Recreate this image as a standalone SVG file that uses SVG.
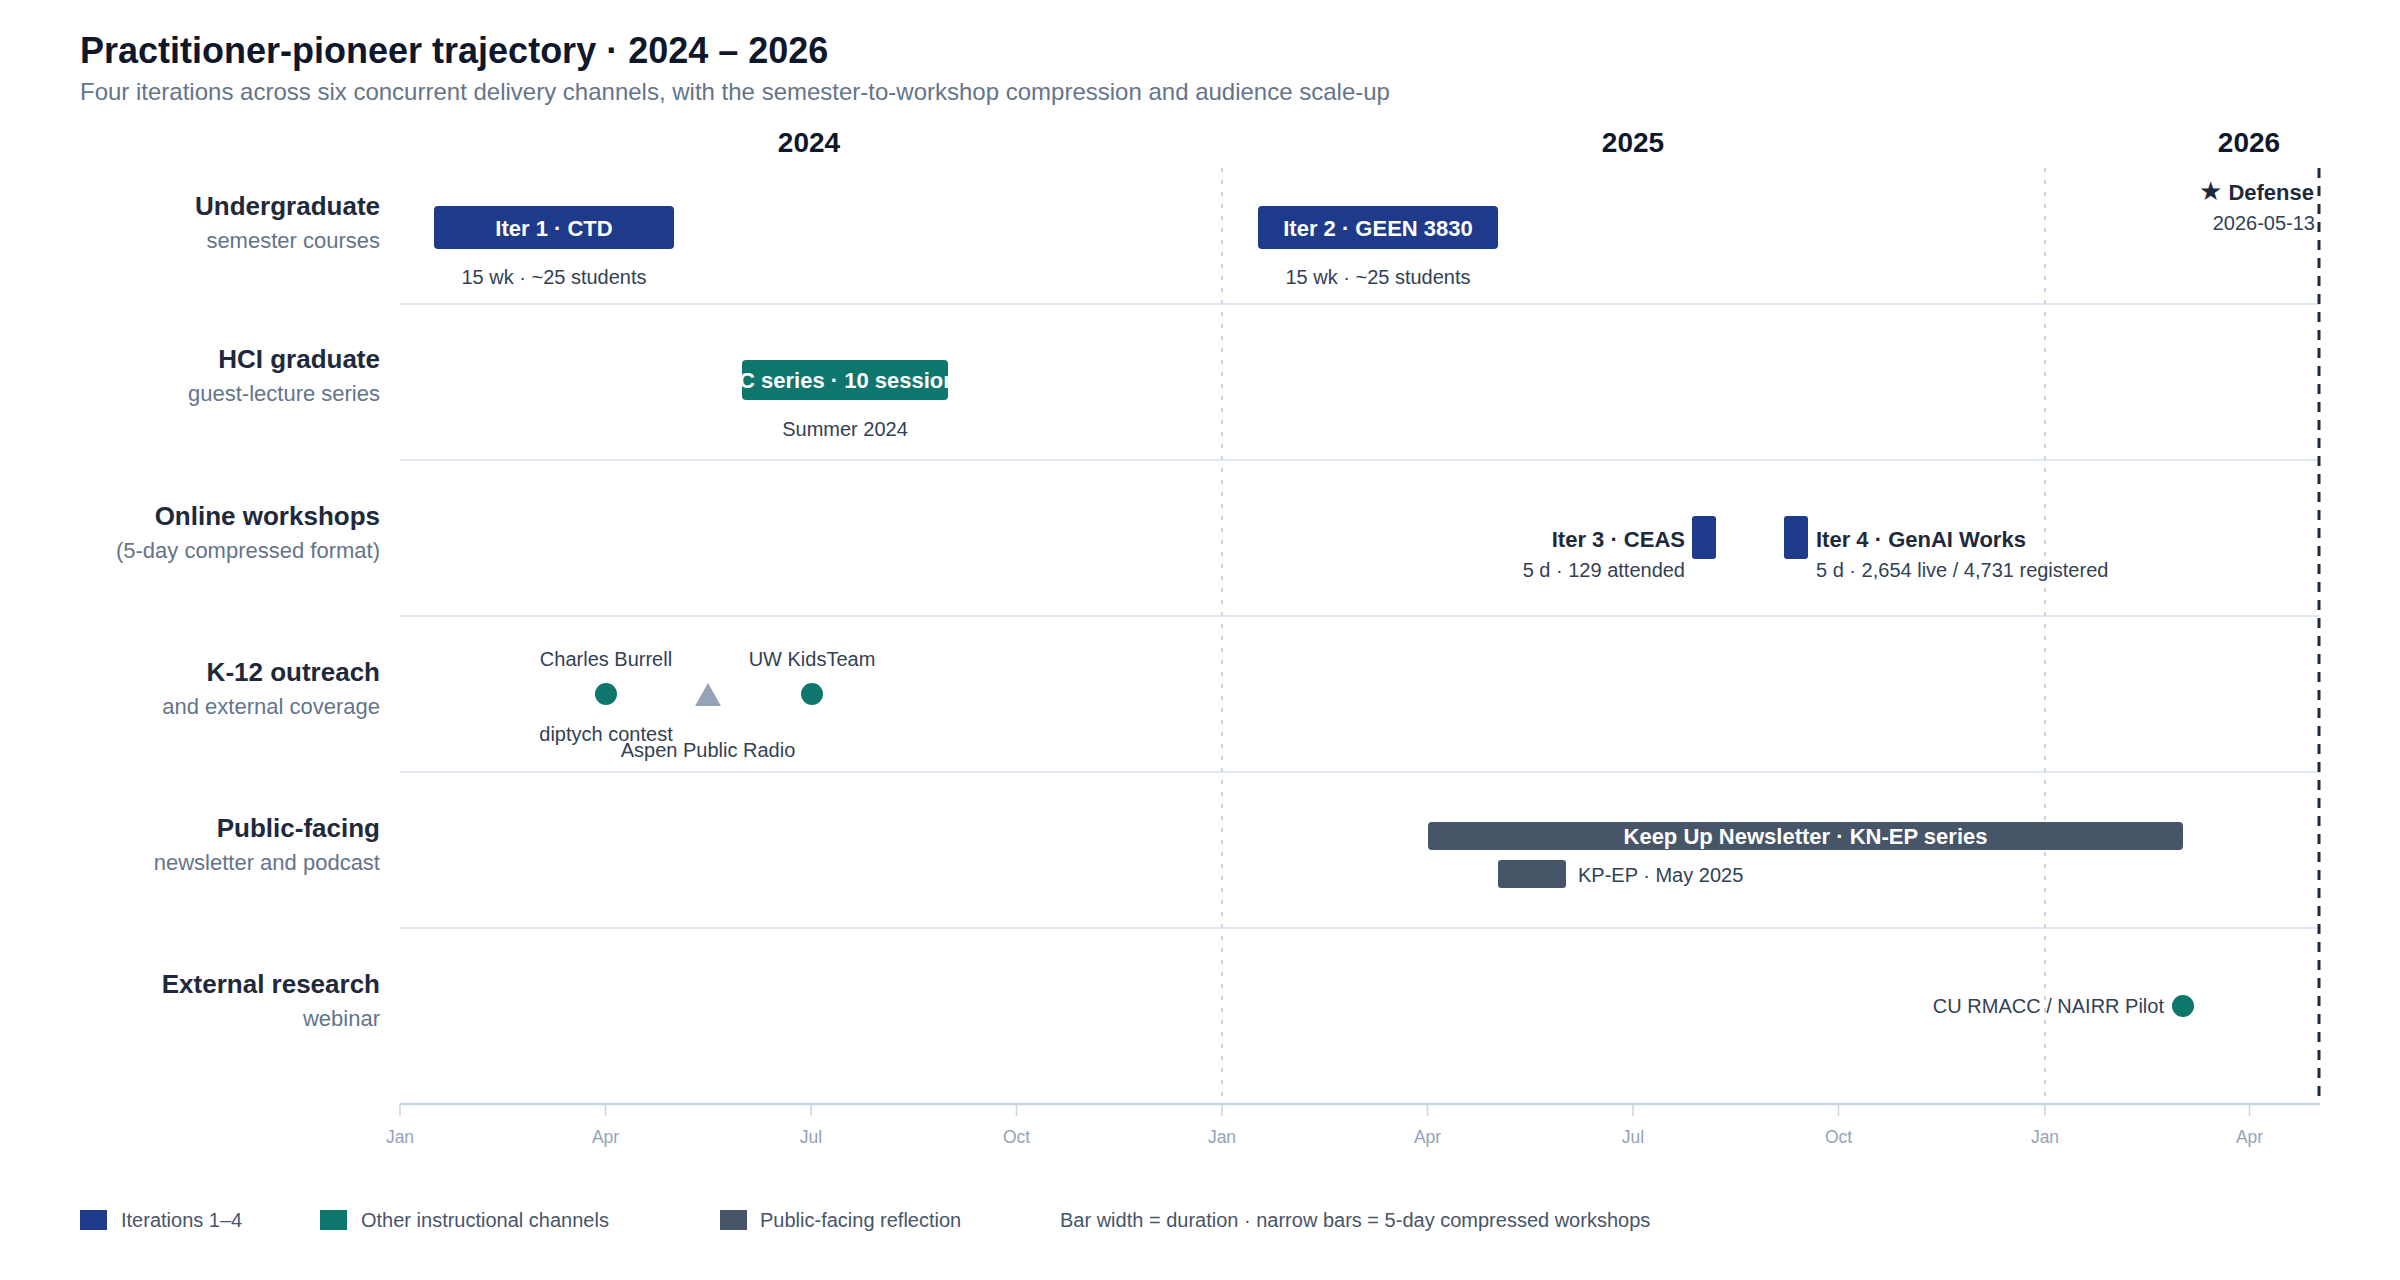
<svg xmlns="http://www.w3.org/2000/svg" width="2400" height="1280" viewBox="0 0 2400 1280">
<style>
text{font-family:"Liberation Sans",Arial,"DejaVu Sans",sans-serif}
.title{font-size:36px;font-weight:700;fill:#0f172a}
.subtitle{font-size:24px;fill:#64748b}
.year{font-size:28px;font-weight:700;fill:#0f172a;text-anchor:middle}
.rowt{font-size:26px;font-weight:700;fill:#1e293b;text-anchor:end}
.rows{font-size:22px;fill:#64748b;text-anchor:end}
.barlbl{font-size:22px;font-weight:700;fill:#ffffff;text-anchor:middle}
.note{font-size:20px;fill:#334155}
.blbl{font-size:22px;font-weight:700;fill:#1e293b}
.tick{font-size:17.5px;fill:#94a3b8;text-anchor:middle}
.leg{font-size:20px;fill:#475569}
.sep{stroke:#e2e8f0;stroke-width:2}
.grid{stroke:#cbd5e1;stroke-width:2;stroke-dasharray:4 8}
.iter{fill:#1e3a8a}
.teal{fill:#0f766e}
.slate{fill:#475569}
</style>
<defs>
<clipPath id="hciclip"><rect x="742" y="360" width="206" height="40" rx="4"/></clipPath>
</defs>
<rect width="2400" height="1280" fill="#ffffff"/>
<text class="title" x="80" y="63">Practitioner-pioneer trajectory · 2024 – 2026</text>
<text class="subtitle" x="80" y="100">Four iterations across six concurrent delivery channels, with the semester-to-workshop compression and audience scale-up</text>
<text class="year" x="809" y="152">2024</text>
<text class="year" x="1633" y="152">2025</text>
<text class="year" x="2249" y="152">2026</text>
<g id="grid">
<line class="sep" x1="400" y1="304" x2="2320" y2="304"/>
<line class="sep" x1="400" y1="460" x2="2320" y2="460"/>
<line class="sep" x1="400" y1="616" x2="2320" y2="616"/>
<line class="sep" x1="400" y1="772" x2="2320" y2="772"/>
<line class="sep" x1="400" y1="928" x2="2320" y2="928"/>
<line class="grid" x1="1222" y1="168" x2="1222" y2="1103"/>
<line class="grid" x1="2045" y1="168" x2="2045" y2="1103"/>
</g>
<g id="axis">
<line x1="400" y1="1104" x2="2320" y2="1104" stroke="#cbd5e1" stroke-width="2.5"/>
<g stroke="#cbd5e1" stroke-width="1.5">
<line x1="400" y1="1104" x2="400" y2="1116"/>
<line x1="605.5" y1="1104" x2="605.5" y2="1116"/>
<line x1="811" y1="1104" x2="811" y2="1116"/>
<line x1="1016.5" y1="1104" x2="1016.5" y2="1116"/>
<line x1="1222" y1="1104" x2="1222" y2="1116"/>
<line x1="1427.5" y1="1104" x2="1427.5" y2="1116"/>
<line x1="1633" y1="1104" x2="1633" y2="1116"/>
<line x1="1838.5" y1="1104" x2="1838.5" y2="1116"/>
<line x1="2045" y1="1104" x2="2045" y2="1116"/>
<line x1="2249.5" y1="1104" x2="2249.5" y2="1116"/>
</g>
<text class="tick" x="400" y="1143">Jan</text>
<text class="tick" x="605.5" y="1143">Apr</text>
<text class="tick" x="811" y="1143">Jul</text>
<text class="tick" x="1016.5" y="1143">Oct</text>
<text class="tick" x="1222" y="1143">Jan</text>
<text class="tick" x="1427.5" y="1143">Apr</text>
<text class="tick" x="1633" y="1143">Jul</text>
<text class="tick" x="1838.5" y="1143">Oct</text>
<text class="tick" x="2045" y="1143">Jan</text>
<text class="tick" x="2249.5" y="1143">Apr</text>
</g>
<g id="row-labels">
<text class="rowt" x="380" y="215">Undergraduate</text>
<text class="rows" x="380" y="248">semester courses</text>
<text class="rowt" x="380" y="368">HCI graduate</text>
<text class="rows" x="380" y="401">guest-lecture series</text>
<text class="rowt" x="380" y="525">Online workshops</text>
<text class="rows" x="380" y="558">(5-day compressed format)</text>
<text class="rowt" x="380" y="681">K-12 outreach</text>
<text class="rows" x="380" y="714">and external coverage</text>
<text class="rowt" x="380" y="837">Public-facing</text>
<text class="rows" x="380" y="870">newsletter and podcast</text>
<text class="rowt" x="380" y="993">External research</text>
<text class="rows" x="380" y="1026">webinar</text>
</g>
<g id="iter1">
<rect class="iter" x="434" y="206" width="240" height="43" rx="4"/>
<text class="barlbl" x="554" y="235.5">Iter 1 · CTD</text>
<text class="note" x="554" y="284" text-anchor="middle">15 wk · ~25 students</text>
</g>
<g id="iter2">
<rect class="iter" x="1258" y="206" width="240" height="43" rx="4"/>
<text class="barlbl" x="1378" y="235.5">Iter 2 · GEEN 3830</text>
<text class="note" x="1378" y="284" text-anchor="middle">15 wk · ~25 students</text>
</g>
<g id="hci-series">
<rect class="teal" x="742" y="360" width="206" height="40" rx="4"/>
<text class="barlbl" x="739" y="388" style="text-anchor:start" clip-path="url(#hciclip)">C series · 10 sessions</text>
<text class="note" x="845" y="436" text-anchor="middle">Summer 2024</text>
</g>
<g id="iter3">
<rect class="iter" x="1692" y="516" width="24" height="43" rx="3"/>
<text class="blbl" x="1685" y="547" text-anchor="end">Iter 3 · CEAS</text>
<text class="note" x="1685" y="577" text-anchor="end">5 d · 129 attended</text>
</g>
<g id="iter4">
<rect class="iter" x="1784" y="516" width="24" height="43" rx="3"/>
<text class="blbl" x="1816" y="547">Iter 4 · GenAI Works</text>
<text class="note" x="1816" y="577">5 d · 2,654 live / 4,731 registered</text>
</g>
<g id="charles-burrell">
<circle class="teal" cx="606" cy="694" r="11"/>
<text class="note" x="606" y="666" text-anchor="middle">Charles Burrell</text>
<text class="note" x="606" y="741" text-anchor="middle">diptych contest</text>
</g>
<g id="aspen-public-radio">
<polygon points="708,683 695,706 721,706" fill="#94a3b8"/>
<text class="note" x="708" y="757" text-anchor="middle">Aspen Public Radio</text>
</g>
<g id="uw-kidsteam">
<circle class="teal" cx="812" cy="694" r="11"/>
<text class="note" x="812" y="666" text-anchor="middle">UW KidsTeam</text>
</g>
<g id="keep-up-newsletter">
<rect class="slate" x="1428" y="822" width="755" height="28" rx="4"/>
<text class="barlbl" x="1805.5" y="844">Keep Up Newsletter · KN-EP series</text>
</g>
<g id="kp-ep">
<rect class="slate" x="1498" y="860" width="68" height="28" rx="3"/>
<text class="note" x="1578" y="882">KP-EP · May 2025</text>
</g>
<g id="cu-rmacc">
<circle class="teal" cx="2183" cy="1006" r="11"/>
<text class="note" x="2164" y="1013" text-anchor="end">CU RMACC / NAIRR Pilot</text>
</g>
<g id="defense">
<line x1="2319" y1="168" x2="2319" y2="1100" stroke="#1e293b" stroke-width="3" stroke-dasharray="10 8"/>
<text class="blbl" x="2314" y="200" text-anchor="end"><tspan font-size="26">★</tspan> Defense</text>
<text class="note" x="2315" y="230" text-anchor="end">2026-05-13</text>
</g>
<g id="legend">
<rect class="iter" x="80" y="1210" width="27" height="20"/>
<text class="leg" x="121" y="1227">Iterations 1–4</text>
<rect class="teal" x="320" y="1210" width="27" height="20"/>
<text class="leg" x="361" y="1227">Other instructional channels</text>
<rect class="slate" x="720" y="1210" width="27" height="20"/>
<text class="leg" x="760" y="1227">Public-facing reflection</text>
<text class="leg" x="1060" y="1227">Bar width = duration · narrow bars = 5-day compressed workshops</text>
</g>
</svg>
